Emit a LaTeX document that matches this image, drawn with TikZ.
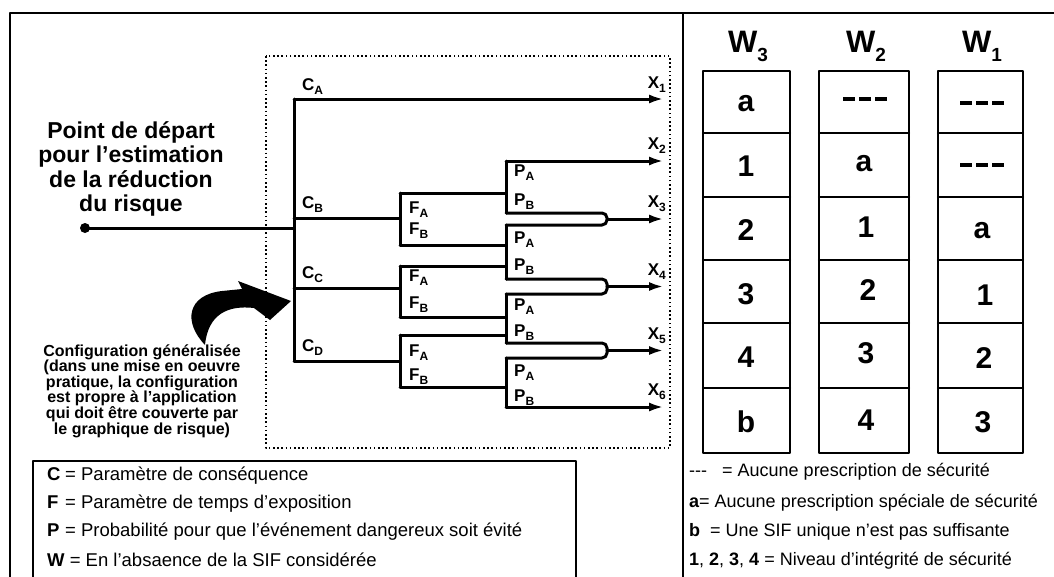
\documentclass[tikz,border=0pt]{standalone}
\usepackage{fontspec}
\setmainfont{Liberation Sans}
\usetikzlibrary{arrows.meta}

\newcommand{\indice}[2]{#1\raisebox{-0.45ex}{\fontsize{12}{12}\selectfont #2}}
\newcommand{\poids}[1]{W\raisebox{-0.55ex}{\fontsize{19}{19}\selectfont #1}}
\newcommand{\tirets}{\rule[7pt]{12pt}{4pt}\hspace{4pt}\rule[7pt]{12pt}{4pt}\hspace{4pt}\rule[7pt]{12pt}{4pt}}

\begin{document}
\begin{tikzpicture}[
      x=1pt, y=-1pt,
      line join=round,
      line cap=round
  ]

  % Dimensions (en pixels de l'image)
  \def\xT{294}  % tronc des C
  \def\xF{400}  % embranchements F
  \def\xP{506}  % embranchements P
  \def\xM{607}  % reunion des branches
  \def\xE{664}  % pointes des fleches X

  \tikzset{
      frame/.style={draw=black, line width=2.8pt, line cap=rect},
      branch/.style={draw=black, line width=3pt},
      exit/.style={branch, -{Latex[length=15pt, width=9pt]}},
      dotbox/.style={draw=black, line width=2.2pt, line cap=butt, dash pattern=on 1.6pt off 2.6pt},
      lab/.style={font=\bfseries\fontsize{17}{17}\selectfont, inner sep=0pt},
      cellbox/.style={draw=black, line width=2.4pt},
      cell/.style={font=\bfseries\fontsize{30}{30}\selectfont, inner sep=0pt},
      head/.style={font=\bfseries\fontsize{31}{31}\selectfont, inner sep=0pt},
      legend/.style={font=\fontsize{18}{18}\selectfont, inner sep=0pt, anchor=west}
  }

  \useasboundingbox (0,0) rectangle (1054,576);

  % 1. Cadre general et zone pointillee
  \draw[frame] (10,576) -- (10,13) -- (1054,13);
  \draw[frame] (683,13) -- (683,576);
  \draw[dotbox] (266,56) rectangle (670,448);

  % 2. Textes de gauche
  \node[font=\bfseries\fontsize{23}{24.3}\selectfont, align=center, inner sep=0pt] (depart) at (131,169)
      {Point de départ\\pour l'estimation\\de la réduction\\du risque};
  \node[font=\bfseries\fontsize{16}{15.6}\selectfont, align=center, inner sep=0pt] (config) at (142,391)
      {Configuration généralisée\\(dans une mise en oeuvre\\pratique, la configuration\\est propre à l'application\\qui doit être couverte par\\le graphique de risque)};

  % fleche courbe vers le graphe
  \fill (205,345) .. controls (183,322) and (187,295) .. (222,291) -- (242,289) -- (238,281)
        -- (291,301) -- (270,320) -- (254,308) .. controls (228,305) and (208,314) .. (205,345) -- cycle;

  % 3. Points du graphe de risque
  \coordinate (start) at (85,228);
  \coordinate (t0) at (\xT,228);
  \coordinate (cA) at (\xT,99);
  \coordinate (cB) at (\xT,218);
  \coordinate (cC) at (\xT,288);
  \coordinate (cD) at (\xT,361);

  \coordinate (fB) at (\xF,218);  \coordinate (fBa) at (\xF,193);  \coordinate (fBb) at (\xF,245);
  \coordinate (fC) at (\xF,288);  \coordinate (fCa) at (\xF,266);  \coordinate (fCb) at (\xF,317);
  \coordinate (fD) at (\xF,361);  \coordinate (fDa) at (\xF,335);  \coordinate (fDb) at (\xF,387);

  \coordinate (p1a) at (\xP,161);  \coordinate (p1b) at (\xP,213);
  \coordinate (p2a) at (\xP,225);  \coordinate (p2b) at (\xP,279);
  \coordinate (p3a) at (\xP,294);  \coordinate (p3b) at (\xP,343);
  \coordinate (p4a) at (\xP,358);  \coordinate (p4b) at (\xP,407);

  \coordinate (m3) at (\xM,219);
  \coordinate (m4) at (\xM,286.5);
  \coordinate (m5) at (\xM,350.5);

  \coordinate (x1) at (\xE,99);
  \coordinate (x2) at (\xE,161);
  \coordinate (x3) at (\xE,219);
  \coordinate (x4) at (\xE,286.5);
  \coordinate (x5) at (\xE,350.5);
  \coordinate (x6) at (\xE,407);

  % 4. Branches
  \fill (start) circle (5);
  \draw[branch] (start) -- (t0);
  \draw[branch] (cA) -- (cD);
  \draw[exit] (cA) -- (x1);

  \draw[branch] (cB) -- (fB);
  \draw[branch] (cC) -- (fC);
  \draw[branch] (cD) -- (fD);
  \draw[branch] (fBa) -- (fBb);
  \draw[branch] (fCa) -- (fCb);
  \draw[branch] (fDa) -- (fDb);

  \draw[branch] (fBa) -- (fBa -| p1a);
  \draw[branch] (fBb) -- (fBb -| p2a);
  \draw[branch] (fCa) -- (fCa -| p2a);
  \draw[branch] (fCb) -- (fCb -| p3a);
  \draw[branch] (fDa) -- (fDa -| p3a);
  \draw[branch] (fDb) -- (fDb -| p4a);

  \draw[branch] (p1a) -- (p1b);
  \draw[branch] (p2a) -- (p2b);
  \draw[branch] (p3a) -- (p3b);
  \draw[branch] (p4a) -- (p4b);

  \draw[exit] (p1a) -- (x2);
  \draw[branch, rounded corners=5pt] (p1b) -- (p1b -| m3) -- (p2a -| m3) -- (p2a);
  \draw[branch, rounded corners=5pt] (p2b) -- (p2b -| m4) -- (p3a -| m4) -- (p3a);
  \draw[branch, rounded corners=5pt] (p3b) -- (p3b -| m5) -- (p4a -| m5) -- (p4a);
  \draw[exit] (m3) -- (x3);
  \draw[exit] (m4) -- (x4);
  \draw[exit] (m5) -- (x5);
  \draw[exit] (p4b) -- (x6);

  % 5. Etiquettes
  \node[lab, anchor=south west] (lCA) at (302,95) {\indice{C}{A}};
  \node[lab, anchor=south west] (lCB) at (302,213) {\indice{C}{B}};
  \node[lab, anchor=south west] (lCC) at (302,283) {\indice{C}{C}};
  \node[lab, anchor=south west] (lCD) at (302,356) {\indice{C}{D}};

  \node[lab, anchor=west] (lFA1) at (409,210) {\indice{F}{A}};
  \node[lab, anchor=west] (lFB1) at (409,231) {\indice{F}{B}};
  \node[lab, anchor=west] (lFA2) at (409,278) {\indice{F}{A}};
  \node[lab, anchor=west] (lFB2) at (409,305) {\indice{F}{B}};
  \node[lab, anchor=west] (lFA3) at (409,353) {\indice{F}{A}};
  \node[lab, anchor=west] (lFB3) at (409,377) {\indice{F}{B}};

  \node[lab, anchor=west] (lPA1) at (514,173) {\indice{P}{A}};
  \node[lab, anchor=west] (lPB1) at (514,202) {\indice{P}{B}};
  \node[lab, anchor=west] (lPA2) at (514,240) {\indice{P}{A}};
  \node[lab, anchor=west] (lPB2) at (514,267) {\indice{P}{B}};
  \node[lab, anchor=west] (lPA3) at (514,307) {\indice{P}{A}};
  \node[lab, anchor=west] (lPB3) at (514,333) {\indice{P}{B}};
  \node[lab, anchor=west] (lPA4) at (514,373) {\indice{P}{A}};
  \node[lab, anchor=west] (lPB4) at (514,398) {\indice{P}{B}};

  \node[lab, anchor=south east] (lX1) at (666,93) {\indice{X}{1}};
  \node[lab, anchor=south east] (lX2) at (666,154) {\indice{X}{2}};
  \node[lab, anchor=south east] (lX3) at (666,212) {\indice{X}{3}};
  \node[lab, anchor=south east] (lX4) at (666,280) {\indice{X}{4}};
  \node[lab, anchor=south east] (lX5) at (666,344) {\indice{X}{5}};
  \node[lab, anchor=south east] (lX6) at (666,400) {\indice{X}{6}};

  % 6. Tableaux W
  \node[head] (hW3) at (748,46) {\poids{3}};
  \node[head] (hW2) at (866,46) {\poids{2}};
  \node[head] (hW1) at (982,46) {\poids{1}};

  \draw[cellbox] (703,71) rectangle (790,453);
  \draw[cellbox] (819,71) rectangle (909,453);
  \draw[cellbox] (938,71) rectangle (1023,453);
  \draw[cellbox] (703,133) -- (790,133) (819,133) -- (909,133) (938,133) -- (1023,133);
  \draw[cellbox] (703,197) -- (790,197) (819,197) -- (909,197) (938,197) -- (1023,197);
  \draw[cellbox] (703,260) -- (790,260) (819,260) -- (909,260) (938,260) -- (1023,260);
  \draw[cellbox] (703,323) -- (790,323) (819,323) -- (909,323) (938,323) -- (1023,323);
  \draw[cellbox] (703,388) -- (790,388) (819,388) -- (909,388) (938,388) -- (1023,388);

  \node[cell] (w3a) at (746,104) {a};
  \node[cell] (w3b) at (746,166) {1};
  \node[cell] (w3c) at (746,230) {2};
  \node[cell] (w3d) at (746,294) {3};
  \node[cell] (w3e) at (746,357) {4};
  \node[cell] (w3f) at (746,422) {b};

  \node[cell] (w2a) at (865,102) {\tirets};
  \node[cell] (w2b) at (864,164) {a};
  \node[cell] (w2c) at (866,227) {1};
  \node[cell] (w2d) at (868,290) {2};
  \node[cell] (w2e) at (866,353) {3};
  \node[cell] (w2f) at (866,420) {4};

  \node[cell] (w1a) at (982,106) {\tirets};
  \node[cell] (w1b) at (982,168) {\tirets};
  \node[cell] (w1c) at (982,231) {a};
  \node[cell] (w1d) at (985,295) {1};
  \node[cell] (w1e) at (984,358) {2};
  \node[cell] (w1f) at (983,422) {3};

  % 7. Legendes
  \draw[frame, line width=2pt] (33,576) -- (33,461) -- (576,461) -- (576,576);
  \node[legend, font=\fontsize{18.5}{18.5}\selectfont] (legC) at (47,476) {\makebox[18pt][l]{\bfseries C}= Paramètre de conséquence};
  \node[legend, font=\fontsize{18.5}{18.5}\selectfont] (legF) at (47,504) {\makebox[18pt][l]{\bfseries F}= Paramètre de temps d'exposition};
  \node[legend, font=\fontsize{18.5}{18.5}\selectfont] (legP) at (47,532) {\makebox[18pt][l]{\bfseries P}= Probabilité pour que l'événement dangereux soit évité};
  \node[legend, font=\fontsize{18.5}{18.5}\selectfont] (legW) at (47,560) {{\bfseries W} = En l'absaence de la SIF considérée};

  \node[legend] (legN) at (689,472) {-{}-{}-\ \ \ = Aucune prescription de sécurité};
  \node[legend] (legA) at (689,503) {{\bfseries a}= Aucune prescription spéciale de sécurité};
  \node[legend] (legB) at (689,532) {{\bfseries b}\ \ = Une SIF unique n'est pas suffisante};
  \node[legend] (legS) at (689,561) {{\bfseries 1}, {\bfseries 2}, {\bfseries 3}, {\bfseries 4} = Niveau d'intégrité de sécurité};

\end{tikzpicture}
\end{document}
